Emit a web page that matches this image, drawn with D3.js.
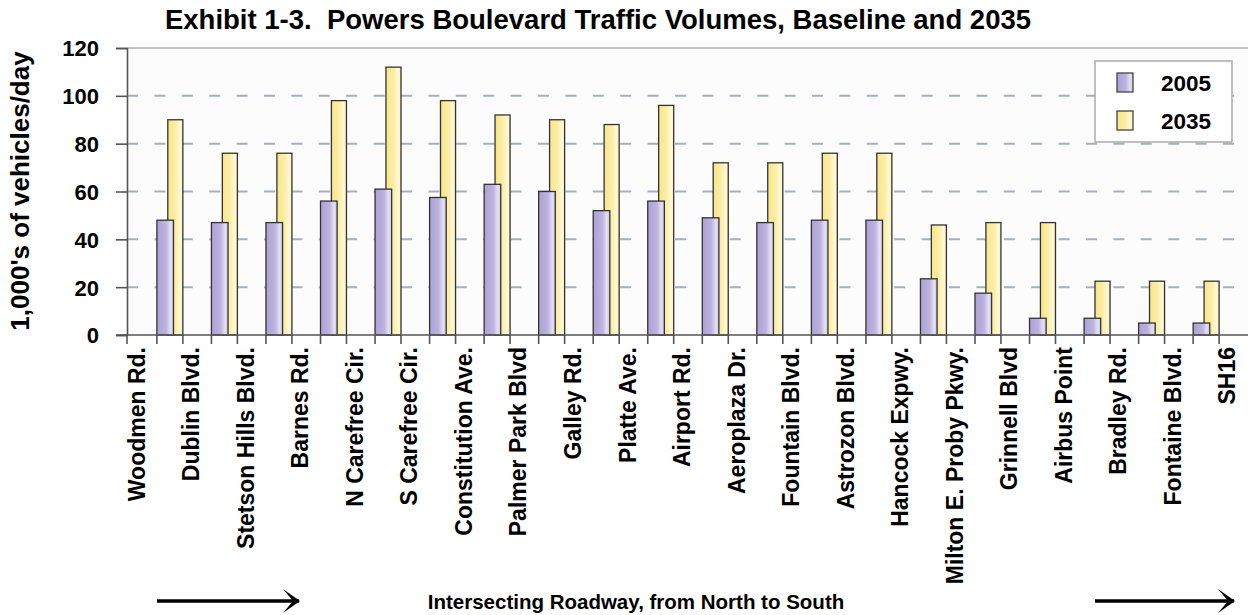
<!DOCTYPE html>
<html>
<head>
<meta charset="utf-8">
<script src="https://cdn.jsdelivr.net/npm/d3@7"></script>
<style>
  html, body { margin: 0; padding: 0; background: #fff; }
  svg { display: block; }
  text { font-family: "Liberation Sans", Arial, sans-serif; font-weight: bold; fill: #000; }
</style>
</head>
<body>
<svg id="chart" width="1248" height="615"></svg>
<script>
// ---- data ----
const roads = ["Woodmen Rd.", "Dublin Blvd.", "Stetson Hills Blvd.", "Barnes Rd.", "N Carefree Cir.",
  "S Carefree Cir.", "Constitution Ave.", "Palmer Park Blvd", "Galley Rd.", "Platte Ave.", "Airport Rd.",
  "Aeroplaza Dr.", "Fountain Blvd.", "Astrozon Blvd.", "Hancock Expwy.", "Milton E. Proby Pkwy.",
  "Grinnell Blvd", "Airbus Point", "Bradley Rd.", "Fontaine Blvd.", "SH16"];
const segments = d3.range(20); // road segments between consecutive intersections
const vol2005 = [48, 47, 47, 56, 61, 57.5, 63, 60, 52, 56, 49, 47, 48, 48, 23.5, 17.5, 7, 7, 5, 5];
const vol2035 = [90, 76, 76, 98, 112, 98, 92, 90, 88, 96, 72, 72, 76, 76, 46, 47, 47, 22.5, 22.5, 22.5];
const yTicks = [0, 20, 40, 60, 80, 100, 120];
const seriesNames = ["2005", "2035"];

(function () {
// ---- layout ----
const svg = d3.select("#chart");
const pL = 127, pR = 1249, pT = 48, pB = 335;

const x = d3.scaleBand().domain(segments).range([pL, pR])
  .paddingInner(0.524).paddingOuter(0.548);
const y = d3.scaleLinear().domain([0, 120]).range([pB, pT]);
const step = x.step(), bw = x.bandwidth(), gap = step - bw;
const xLab = d3.scalePoint().domain(roads)
  .range([x(0) - gap / 2, x(0) - gap / 2 + 20 * step]);

// gradients
const defs = svg.append("defs");
function grad(id, stops) {
  const g = defs.append("linearGradient").attr("id", id)
    .attr("x1", "0%").attr("x2", "100%").attr("y1", "0%").attr("y2", "0%");
  stops.forEach(s => g.append("stop").attr("offset", s[0]).attr("stop-color", s[1]));
}
grad("gPurple", [[0, "#aca2d5"], [0.55, "#bcb3de"], [0.82, "#e4e0f3"], [1, "#cbc4e5"]]);
grad("gYellow", [[0, "#f8e48a"], [0.55, "#fcefa8"], [0.82, "#fff9da"], [1, "#f9edb0"]]);

// plot background
svg.append("rect").attr("x", pL).attr("y", pT).attr("width", pR - pL).attr("height", pB - pT)
  .attr("fill", "#fcfcfc");

// gridlines
svg.append("g").selectAll("line").data(yTicks.filter(d => d > 0 && d < 120)).join("line")
  .attr("x1", pL).attr("x2", pR).attr("y1", d => y(d)).attr("y2", d => y(d))
  .attr("stroke", "#9fb2c4").attr("stroke-width", 2).attr("stroke-dasharray", "11,16.4");
// top border
svg.append("line").attr("x1", pL).attr("x2", pR).attr("y1", y(120)).attr("y2", y(120))
  .attr("stroke", "#c4c4c4").attr("stroke-width", 2);

// bars: 2035 behind, 2005 in front
const bars = svg.append("g");
bars.selectAll("rect.y35").data(segments).join("rect").attr("class", "y35")
  .attr("x", d => x(d) + bw * 0.42).attr("width", bw * 0.58)
  .attr("y", d => y(vol2035[d])).attr("height", d => y(0) - y(vol2035[d]))
  .attr("fill", "url(#gYellow)").attr("stroke", "#333").attr("stroke-width", 1.3);
bars.selectAll("rect.y05").data(segments).join("rect").attr("class", "y05")
  .attr("x", d => x(d)).attr("width", bw * 0.64)
  .attr("y", d => y(vol2005[d])).attr("height", d => y(0) - y(vol2005[d]))
  .attr("fill", "url(#gPurple)").attr("stroke", "#333").attr("stroke-width", 1.3);

// y axis
const yAxis = svg.append("g").attr("transform", `translate(${pL},0)`)
  .call(d3.axisLeft(y).tickValues(yTicks).tickSize(11).tickPadding(17).tickFormat(d3.format("d")));
yAxis.select(".domain").attr("stroke", "#555").attr("stroke-width", 1.6);
yAxis.selectAll(".tick line").attr("stroke", "#555").attr("stroke-width", 1.6);
yAxis.selectAll(".tick text").style("font-size", "22px").attr("dy", "0.36em")
  .style("font-family", "'Liberation Sans', Arial, sans-serif").style("font-weight", "bold");

// x axis line and ticks
svg.append("line").attr("x1", pL - 11).attr("x2", pR).attr("y1", pB).attr("y2", pB)
  .attr("stroke", "#555").attr("stroke-width", 1.6);
const tickXs = [pL];
segments.forEach(s => { tickXs.push(x(s)); tickXs.push(x(s) + bw); });
svg.append("g").selectAll("line").data(tickXs).join("line")
  .attr("x1", d => d).attr("x2", d => d).attr("y1", pB).attr("y2", pB + 9)
  .attr("stroke", "#555").attr("stroke-width", 1.6);

// x labels
svg.append("g").selectAll("text").data(roads).join("text")
  .attr("transform", d => `translate(${xLab(d) - 6},347) rotate(-90)`)
  .attr("text-anchor", "end").attr("dy", "0.35em")
  .style("font-size", "23px").text(d => d);

// title
svg.append("text").attr("x", 598).attr("y", 29).attr("text-anchor", "middle")
  .style("font-size", "27.5px").style("white-space", "pre")
  .text("Exhibit 1-3.  Powers Boulevard Traffic Volumes, Baseline and 2035");

// y title
svg.append("text").attr("transform", "translate(29,191) rotate(-90)").attr("text-anchor", "middle")
  .style("font-size", "26px").text("1,000's of vehicles/day");

// legend
const lg = svg.append("g");
lg.append("rect").attr("x", 1095).attr("y", 61).attr("width", 137).attr("height", 81)
  .attr("fill", "#fff").attr("stroke", "#aaa").attr("stroke-width", 1.5);
const fills = ["url(#gPurple)", "url(#gYellow)"];
seriesNames.forEach((n, i) => {
  lg.append("rect").attr("x", 1117).attr("y", 73 + i * 38).attr("width", 16).attr("height", 19)
    .attr("fill", fills[i]).attr("stroke", "#444").attr("stroke-width", 1.3);
  lg.append("text").attr("x", 1161).attr("y", 83 + i * 38).attr("dy", "0.36em")
    .style("font-size", "22.5px").text(n);
});

// caption and arrows
svg.append("text").attr("x", 636).attr("y", 609).attr("text-anchor", "middle")
  .style("font-size", "20.5px").text("Intersecting Roadway, from North to South");
defs.append("marker").attr("id", "arr").attr("viewBox", "0 0 20 24").attr("refX", 19).attr("refY", 12)
  .attr("markerWidth", 20).attr("markerHeight", 24).attr("markerUnits", "userSpaceOnUse").attr("orient", "auto")
  .append("path").attr("d", "M3,0 L20,12 L3,24 L13,12 Z").attr("fill", "#000");
[[157, 307], [1095, 1242]].forEach(a => {
  svg.append("line").attr("x1", a[0]).attr("x2", a[1] - 8).attr("y1", 601).attr("y2", 601)
    .attr("stroke", "#000").attr("stroke-width", 3.5).attr("marker-end", "url(#arr)");
});
})();
</script>
</body>
</html>
